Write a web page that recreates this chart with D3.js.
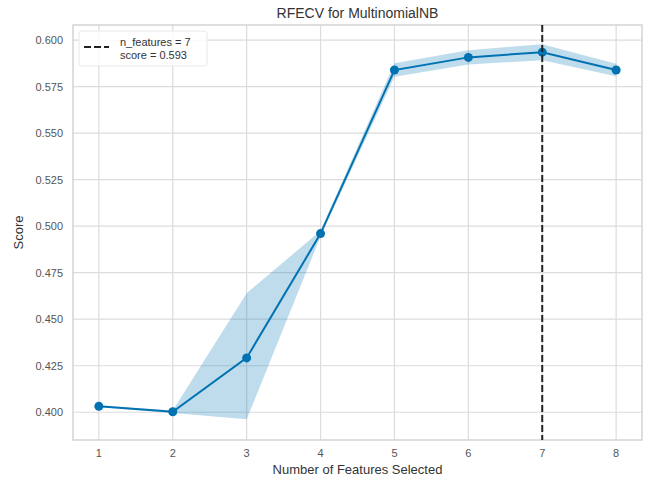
<!DOCTYPE html>
<html><head><meta charset="utf-8">
<script src="https://cdn.jsdelivr.net/npm/d3@7"></script>
<style>body{margin:0;background:#fff;} text{font-family:"Liberation Sans",Arial,sans-serif;}</style>
</head><body>
<svg id="c" width="650" height="481"></svg>
<script>
const features = [1,2,3,4,5,6,7,8];
const scores = [0.4032,0.4003,0.4292,0.4960,0.5839,0.5907,0.5935,0.5839];
const upper = [0.4037,0.4010,0.4640,0.4975,0.5875,0.5945,0.5978,0.5873];
const lower = [0.4027,0.3996,0.3962,0.4945,0.5803,0.5869,0.5892,0.5805];
const xTicks = [1,2,3,4,5,6,7,8];
const yTicks = [0.400,0.425,0.450,0.475,0.500,0.525,0.550,0.575,0.600];
const bestN = 7, bestScore = 0.593;

const svg = d3.select("#c");
const L=73,R=642,T=25,B=440;
const x = d3.scaleLinear().domain([0.65,8.35]).range([L,R]);
const y = d3.scaleLinear().domain([0.3851,0.6081]).range([B,T]);
const grid="#dcdcdc", tc="#555";

// grid
svg.append("g").selectAll("line").data(yTicks).join("line")
 .attr("x1",L).attr("x2",R).attr("y1",d=>y(d)).attr("y2",d=>y(d)).attr("stroke",grid).attr("stroke-width",1.2);
svg.append("g").selectAll("line").data(xTicks).join("line")
 .attr("y1",T).attr("y2",B).attr("x1",d=>x(d)).attr("x2",d=>x(d)).attr("stroke",grid).attr("stroke-width",1.2);
svg.append("rect").attr("x",L).attr("y",T).attr("width",R-L).attr("height",B-T).attr("fill","none").attr("stroke","#d4d4d4").attr("stroke-width",1.5);

// band
const data = features.map((f,i)=>({f,s:scores[i],u:upper[i],l:lower[i]}));
svg.append("path").datum(data).attr("d",d3.area().x(d=>x(d.f)).y0(d=>y(d.l)).y1(d=>y(d.u)))
 .attr("fill","#0072b2").attr("fill-opacity",0.25);
svg.append("path").datum(data).attr("d",d3.line().x(d=>x(d.f)).y(d=>y(d.s)))
 .attr("fill","none").attr("stroke","#0072b2").attr("stroke-width",2);
svg.append("g").selectAll("circle").data(data).join("circle")
 .attr("cx",d=>x(d.f)).attr("cy",d=>y(d.s)).attr("r",4.5).attr("fill","#0072b2");

// vline
svg.append("line").attr("x1",x(bestN)).attr("x2",x(bestN)).attr("y1",T).attr("y2",B)
 .attr("stroke","#222").attr("stroke-width",2).attr("stroke-dasharray","7,3");

// ticks
svg.append("g").selectAll("text").data(xTicks).join("text")
 .attr("x",d=>x(d)).attr("y",457).attr("text-anchor","middle").attr("font-size",11).attr("fill",tc).text(d=>d);
svg.append("g").selectAll("text").data(yTicks).join("text")
 .attr("x",63).attr("y",d=>y(d)+4).attr("text-anchor","end").attr("font-size",11).attr("fill",tc).text(d=>d.toFixed(3));

// labels
svg.append("text").attr("x",(L+R)/2).attr("y",18).attr("text-anchor","middle").attr("font-size",14).attr("fill","#333").text("RFECV for MultinomialNB");
svg.append("text").attr("x",(L+R)/2).attr("y",474).attr("text-anchor","middle").attr("font-size",13).attr("fill","#333").text("Number of Features Selected");
svg.append("text").attr("transform","translate(23,"+((T+B)/2)+") rotate(-90)").attr("text-anchor","middle").attr("font-size",13).attr("fill","#333").text("Score");

// legend
const lg = svg.append("g");
lg.append("rect").attr("x",79).attr("y",31).attr("width",128).attr("height",35).attr("rx",3).attr("fill","#fff").attr("fill-opacity",0.85).attr("stroke","#e8e8e8");
lg.append("line").attr("x1",84).attr("x2",109).attr("y1",47).attr("y2",47).attr("stroke","#222").attr("stroke-width",2).attr("stroke-dasharray","7,3");
lg.append("text").attr("x",120).attr("y",46).attr("font-size",11).attr("fill","#333").text("n_features = "+bestN);
lg.append("text").attr("x",120).attr("y",59).attr("font-size",11).attr("fill","#333").text("score = "+bestScore.toFixed(3));
</script>
</body></html>
